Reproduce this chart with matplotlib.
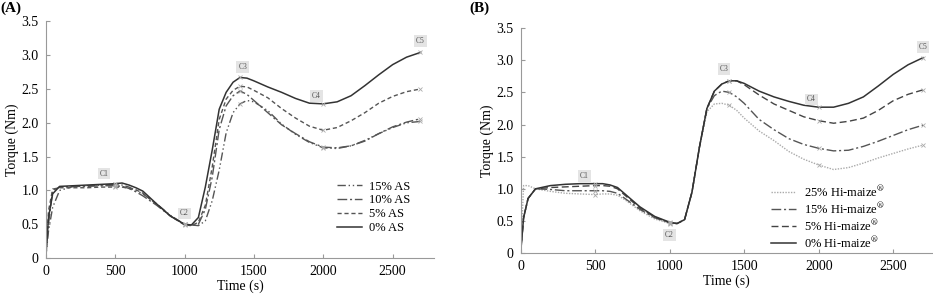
import matplotlib
matplotlib.use('Agg')
import matplotlib.pyplot as plt

plt.rcParams['font.family'] = ['Liberation Serif', 'DejaVu Serif']
plt.rcParams['mathtext.fontset'] = 'stix'

# Time grid (s) shared by all curves
time_s = [0, 20, 50, 100, 200, 300, 400, 500, 550, 600, 650, 700, 800, 900, 1000,
          1050, 1100, 1150, 1200, 1250, 1300, 1350, 1400, 1450, 1500, 1600, 1700,
          1800, 1900, 2000, 2100, 2200, 2300, 2400, 2500, 2600, 2700]

# Panel A: torque (Nm) with AS
as_labels = ['15% AS', '10% AS', '5% AS', '0% AS']
as_15 = [0, 0.4, 0.75, 1.0, 1.06, 1.07, 1.08, 1.09, 1.08, 1.05, 1.00, 0.95, 0.80, 0.63, 0.50,
         0.49, 0.48, 0.55, 0.85, 1.30, 1.85, 2.15, 2.28, 2.33, 2.31, 2.18, 1.98, 1.83,
         1.71, 1.63, 1.62, 1.66, 1.74, 1.84, 1.93, 2.00, 2.02]
as_10 = [0, 0.5, 1.0, 1.05, 1.06, 1.06, 1.07, 1.07, 1.06, 1.03, 0.98, 0.92, 0.78, 0.62, 0.50,
         0.48, 0.50, 0.72, 1.20, 1.90, 2.25, 2.40, 2.47, 2.42, 2.33, 2.15, 1.97, 1.84,
         1.72, 1.64, 1.63, 1.66, 1.73, 1.84, 1.94, 2.01, 2.06]
as_5 = [0, 0.7, 1.02, 1.04, 1.04, 1.04, 1.05, 1.05, 1.05, 1.03, 1.01, 0.96, 0.79, 0.62, 0.49,
        0.48, 0.53, 0.78, 1.35, 2.05, 2.35, 2.48, 2.54, 2.53, 2.48, 2.37, 2.21, 2.07,
        1.95, 1.89, 1.93, 2.03, 2.15, 2.29, 2.39, 2.46, 2.50]
as_0 = [0, 0.6, 0.95, 1.06, 1.07, 1.08, 1.09, 1.10, 1.11, 1.08, 1.04, 0.99, 0.80, 0.62, 0.50,
        0.49, 0.60, 1.05, 1.60, 2.20, 2.45, 2.60, 2.67, 2.66, 2.62, 2.53, 2.45, 2.36,
        2.29, 2.28, 2.31, 2.40, 2.55, 2.71, 2.86, 2.97, 3.04]

# Panel B: torque (Nm) with Hi-maize
hm_labels = [r'25% Hi-maize$^{\circledR}$', r'15% Hi-maize$^{\circledR}$',
             r'5% Hi-maize$^{\circledR}$', r'0% Hi-maize$^{\circledR}$']
hm_25 = [0, 1.05, 1.05, 1.0, 0.96, 0.93, 0.92, 0.91, 0.92, 0.92, 0.90, 0.83, 0.66, 0.53, 0.46,
         0.46, 0.52, 0.95, 1.65, 2.20, 2.32, 2.33, 2.30, 2.22, 2.10, 1.90, 1.75, 1.58,
         1.46, 1.37, 1.30, 1.33, 1.40, 1.48, 1.55, 1.62, 1.68]
hm_15 = [0, 0.55, 0.85, 1.0, 0.99, 0.97, 0.97, 0.97, 0.97, 0.96, 0.93, 0.85, 0.68, 0.55, 0.47,
         0.46, 0.52, 0.95, 1.65, 2.25, 2.45, 2.52, 2.50, 2.43, 2.33, 2.08, 1.92, 1.78,
         1.69, 1.63, 1.59, 1.60, 1.66, 1.74, 1.83, 1.92, 1.99]
hm_5 = [0, 0.55, 0.85, 1.0, 1.02, 1.03, 1.04, 1.05, 1.05, 1.04, 1.00, 0.90, 0.70, 0.56, 0.47,
        0.46, 0.52, 0.95, 1.65, 2.25, 2.52, 2.63, 2.68, 2.68, 2.62, 2.46, 2.32, 2.22,
        2.12, 2.06, 2.02, 2.05, 2.10, 2.22, 2.37, 2.47, 2.54]
hm_0 = [0, 0.55, 0.85, 1.0, 1.05, 1.07, 1.08, 1.08, 1.08, 1.06, 1.02, 0.92, 0.72, 0.57, 0.48,
        0.46, 0.52, 0.95, 1.65, 2.25, 2.52, 2.63, 2.68, 2.68, 2.64, 2.52, 2.43, 2.36,
        2.30, 2.27, 2.27, 2.33, 2.43, 2.60, 2.78, 2.93, 3.04]

# C point annotations (label, time, torque)
c_names = ['C1', 'C2', 'C3', 'C4', 'C5']
c_time_a = [420, 1000, 1420, 1950, 2700]
c_torque_a = [1.25, 0.66, 2.83, 2.40, 3.21]
c_time_b = [427, 998, 1365, 1953, 2700]
c_torque_b = [1.20, 0.28, 2.86, 2.39, 3.21]

styles_a = [dict(color='#555555', dashes=(6, 2, 1, 2, 1, 2), lw=1.0),
            dict(color='#555555', dashes=(7, 2, 1.5, 2), lw=1.0),
            dict(color='#555555', dashes=(3, 2), lw=1.0),
            dict(color='#333333', linestyle='-', lw=1.1)]
styles_b = [dict(color='#aaaaaa', dashes=(1, 1), lw=1.0),
            dict(color='#555555', dashes=(7, 2, 1.5, 2), lw=1.0),
            dict(color='#444444', dashes=(5, 2.5), lw=1.0),
            dict(color='#333333', linestyle='-', lw=1.1)]

fig = plt.figure(figsize=(9.33, 2.96), dpi=100)
ax1 = fig.add_axes([0.049, 0.128, 0.4165, 0.80])
ax2 = fig.add_axes([0.558, 0.145, 0.442, 0.76])

marks = [7, 14, 22, 29, 36]
for ax, group, labels, styles in [(ax1, [as_15, as_10, as_5, as_0], as_labels, styles_a),
                                   (ax2, [hm_25, hm_15, hm_5, hm_0], hm_labels, styles_b)]:
    for series, lab, st in zip(group, labels, styles):
        ax.plot(time_s, series, label=lab, **st)
        ax.plot([time_s[i] for i in marks], [series[i] for i in marks], 'x',
                ms=3.5, mec='#aaaaaa', mew=0.6, zorder=3)

for ax, ct, cv in [(ax1, c_time_a, c_torque_a), (ax2, c_time_b, c_torque_b)]:
    for name, t, v in zip(c_names, ct, cv):
        ax.text(t, v, name, fontsize=5.5, color='#555555', ha='center', va='center',
                bbox=dict(boxstyle='square,pad=0.25', fc='#e4e4e4', ec='none'))

for ax, xmax in [(ax1, 2800), (ax2, 2767)]:
    ax.set_xlim(0, xmax)
    ax.set_ylim(0, 3.5)
    ax.set_xticks([0, 500, 1000, 1500, 2000, 2500])
    ax.set_yticks([0, 0.5, 1.0, 1.5, 2.0, 2.5, 3.0, 3.5])
    ax.set_yticklabels(['0', '0.5', '1.0', '1.5', '2.0', '2.5', '3.0', '3.5'])
    ax.tick_params(direction='in', length=3, color='#999999', labelsize=10, pad=5)
    for s in ['top', 'right']:
        ax.spines[s].set_visible(False)
    for s in ['left', 'bottom']:
        ax.spines[s].set_color('#999999')
        ax.spines[s].set_linewidth(0.8)
    ax.set_xlabel('Time (s)', fontsize=10, labelpad=1)
    ax.set_ylabel('Torque (Nm)', fontsize=10, labelpad=2)

ax1.legend(loc='upper left', bbox_to_anchor=(0.72, 0.375), frameon=False, fontsize=9,
           handlelength=2.0, handletextpad=0.6, labelspacing=0.15)
ax2.legend(loc='upper left', bbox_to_anchor=(0.58, 0.36), frameon=False, fontsize=9,
           handlelength=2.0, handletextpad=0.6, labelspacing=0.1)

fig.text(0.0, 0.995, '(A)', fontsize=11, fontweight='bold', va='top', ha='left')
fig.text(0.503, 0.995, '(B)', fontsize=11, fontweight='bold', va='top', ha='left')

fig.savefig('out.png', dpi=100)
